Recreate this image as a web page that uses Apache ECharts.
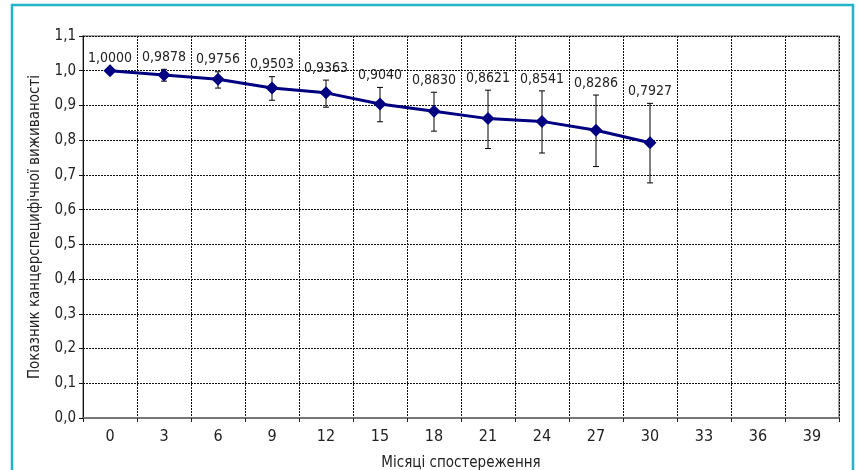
<!DOCTYPE html>
<html>
<head>
<meta charset="utf-8">
<script src="https://cdn.jsdelivr.net/npm/echarts@6/dist/echarts.min.js"></script>
<style>
html,body{margin:0;padding:0;background:#fff;}
#main{width:857px;height:470px;}
</style>
</head>
<body>
<div id="main"></div>
<script>
const categories = ['0','3','6','9','12','15','18','21','24','27','30','33','36','39'];
const survival = [1.0000, 0.9878, 0.9756, 0.9503, 0.9363, 0.9040, 0.8830, 0.8621, 0.8541, 0.8286, 0.7927];
const errLower = [1.000, 0.970, 0.950, 0.915, 0.895, 0.853, 0.826, 0.776, 0.763, 0.724, 0.677];
const errUpper = [1.000, 1.004, 0.997, 0.983, 0.973, 0.952, 0.938, 0.944, 0.942, 0.930, 0.906];
const yTitle = 'Показник канцерспецифічної виживаності';
const xTitle = 'Місяці спостереження';

const FONT = "'Liberation Sans Narrow', 'Arial Narrow', 'DejaVu Sans Condensed', sans-serif";
const fmt = v => v.toFixed(4).replace('.', ',');

const errData = survival.map((v, i) => [i, errLower[i], errUpper[i], v]);

const chart = echarts.init(document.getElementById('main'), null, {renderer: 'canvas'});
chart.setOption({
  animation: false,
  backgroundColor: '#fff',
  textStyle: {fontFamily: FONT},
  graphic: [{
    type: 'rect', z: 100, silent: true,
    shape: {x: 12, y: 5, width: 841, height: 480},
    style: {fill: 'none', stroke: '#1fb4c6', lineWidth: 2.5}
  }],
  grid: {left: 83, right: 18, top: 36, bottom: 52, containLabel: false, outerBoundsMode: 'none',
    show: true, borderColor: '#8c8c8c', borderWidth: 1.5, backgroundColor: '#fff'},
  xAxis: {
    type: 'category',
    data: categories,
    boundaryGap: true,
    name: xTitle,
    nameLocation: 'middle',
    nameGap: 38,
    nameTextStyle: {fontFamily: FONT, fontSize: 15, color: '#222'},
    axisLine: {lineStyle: {color: '#777', width: 2}},
    axisTick: {show: true, length: 4, lineStyle: {color: '#222', width: 1}},
    axisLabel: {fontFamily: FONT, fontSize: 16, color: '#222', margin: 11},
    splitLine: {show: true, lineStyle: {color: '#111', type: [2, 1], width: 1}}
  },
  yAxis: {
    type: 'value',
    min: 0, max: 1.1, interval: 0.1,
    name: yTitle,
    nameLocation: 'middle',
    nameGap: 40,
    nameRotate: 90,
    nameTextStyle: {fontFamily: FONT, fontSize: 15, color: '#222'},
    axisLine: {show: true, lineStyle: {color: '#111', width: 1}},
    axisTick: {show: true, length: 4, lineStyle: {color: '#111'}},
    axisLabel: {fontFamily: FONT, fontSize: 15, color: '#222', margin: 7,
      formatter: v => v.toFixed(1).replace('.', ',')},
    splitLine: {show: true, lineStyle: {color: '#111', type: [2, 1], width: 1}}
  },
  series: [
    {
      type: 'custom',
      z: 3,
      data: errData,
      renderItem: function (params, api) {
        const i = api.value(0);
        const lo = api.coord([i, api.value(1)]);
        const hi = api.coord([i, api.value(2)]);
        const cap = 3;
        const children = [];
        if (Math.abs(lo[1] - hi[1]) > 0.5) {
          children.push(
            {type: 'line', shape: {x1: lo[0], y1: lo[1], x2: hi[0], y2: hi[1]}, style: {stroke: '#000', lineWidth: 1}},
            {type: 'line', shape: {x1: lo[0]-cap, y1: lo[1], x2: lo[0]+cap, y2: lo[1]}, style: {stroke: '#000', lineWidth: 1}},
            {type: 'line', shape: {x1: hi[0]-cap, y1: hi[1], x2: hi[0]+cap, y2: hi[1]}, style: {stroke: '#000', lineWidth: 1}}
          );
        }
        children.push({
          type: 'text',
          style: {
            x: hi[0], y: hi[1] - 12,
            text: fmt(api.value(3)),
            textAlign: 'center', textVerticalAlign: 'middle',
            font: '14px ' + FONT, fill: '#222'
          }
        });
        return {type: 'group', children: children};
      }
    },
    {
      type: 'line',
      z: 5,
      data: survival,
      symbol: 'diamond',
      symbolSize: 13,
      lineStyle: {color: '#000080', width: 3},
      itemStyle: {color: '#000080'}
    }
  ]
});
</script>
</body>
</html>
